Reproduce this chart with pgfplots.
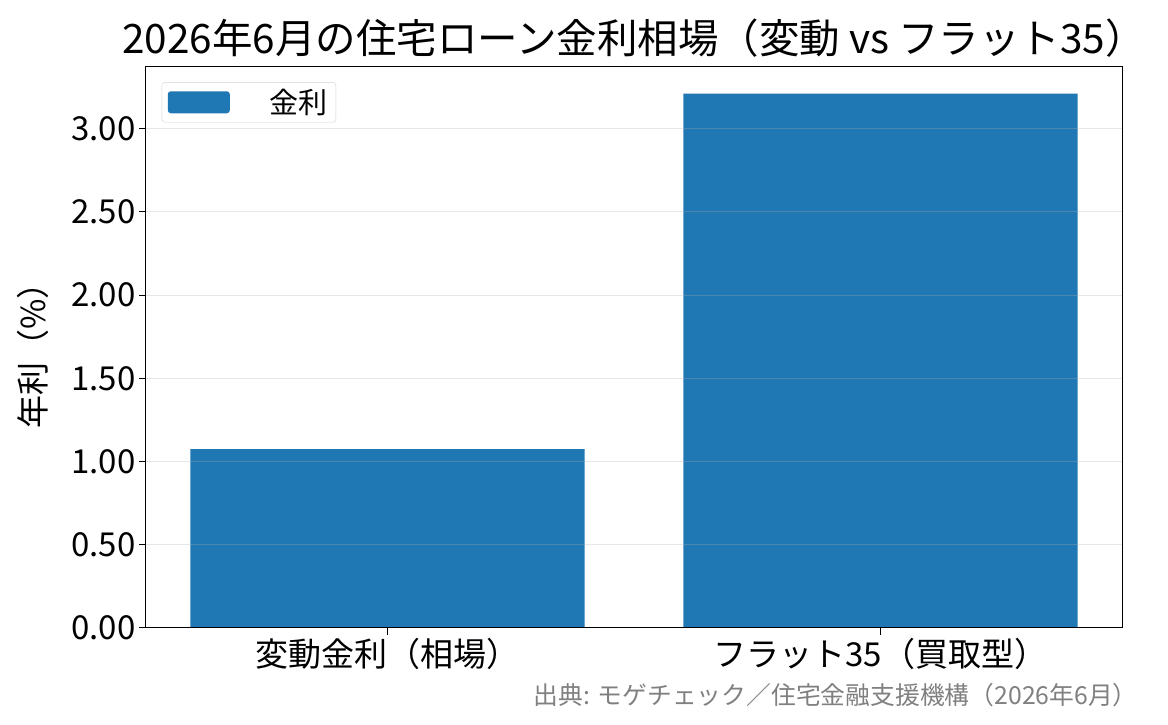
\documentclass[border=0pt]{standalone}
\usepackage{fontspec}
\setmainfont{Noto Sans CJK JP}
\usepackage{pgfplots}
\pgfplotsset{compat=1.18}
\definecolor{barblue}{HTML}{1F77B4}
\definecolor{gridc}{HTML}{B0B0B0}
\begin{document}
\begin{tikzpicture}
\path[use as bounding box] (-146pt,-97pt) rectangle (1022pt,628pt);
\begin{axis}[
  at={(0pt,0pt)}, anchor=south west,
  scale only axis,
  width=976pt, height=561pt,
  xmin=-0.49, xmax=1.49,
  ymin=0, ymax=3.3705,
  xtick={0,1},
  xticklabels={変動金利（相場）,フラット35（買取型）},
  ytick={0,0.5,1,1.5,2,2.5,3},
  yticklabel style={/pgf/number format/.cd, fixed, fixed zerofill, precision=2},
  /pgf/number format/assume math mode=true,
  tick label style={font=\fontsize{33}{37}\selectfont},
  ymajorgrids,
  major grid style={color=gridc, opacity=0.3, line width=1pt},
  tick align=outside,
  xtick pos=bottom, ytick pos=left,
  major tick length=7pt,
  tick style={black, line width=1pt},
  axis line style={black, line width=1pt},
  axis on top,
  ylabel={年利（\%）},
  ylabel style={font=\fontsize{33}{38}\selectfont, at={(axis description cs:-0.1158,0.5)}, anchor=center},
  title={2026年6月の住宅ローン金利相場（変動 vs フラット35）},
  title style={font=\fontsize{40.5}{45}\selectfont, yshift=0pt},
  legend style={at={(0.016,0.973)}, anchor=north west, draw=gray!35, rounded corners=3pt, font=\fontsize{29}{33}\selectfont, inner xsep=6pt, inner ysep=5pt},
  legend image code/.code={\fill[barblue] (0pt,-11pt) rectangle (62pt,11pt);},
  legend cell align=left,
]
\addplot[ybar, bar width=0.8, bar shift=0pt, fill=barblue, draw=none] coordinates {(0,1.075) (1,3.21)};
\addlegendentry{\hspace{38pt}金利}
\end{axis}
\node[anchor=base east, text=gray, font=\fontsize{24.8}{30}\selectfont, inner sep=0pt] at (992pt,-77pt) {出典: モゲチェック／住宅金融支援機構（2026年6月）};
\end{tikzpicture}
\end{document}
